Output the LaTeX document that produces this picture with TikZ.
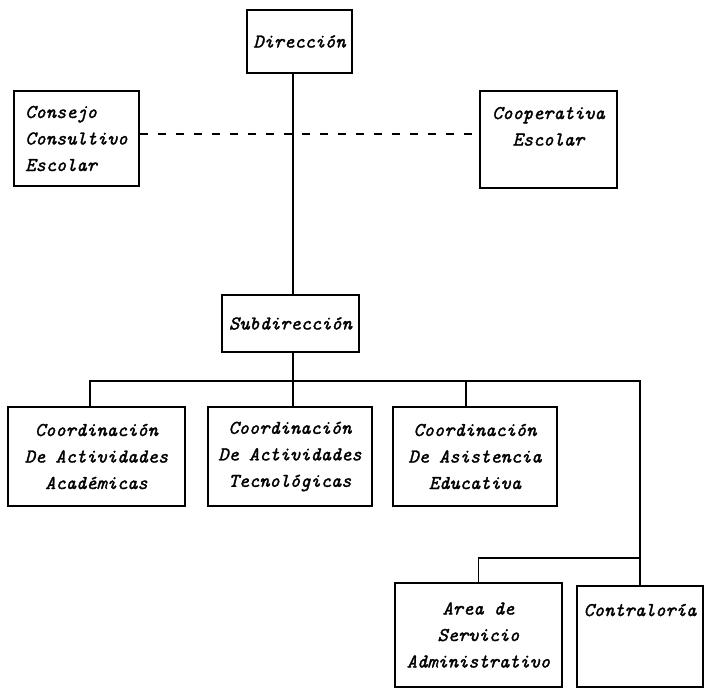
\documentclass[tikz,border=0pt]{standalone}
\usepackage{fontspec}
\newfontface\typewfont{lmmono10-italic.otf}[RawFeature={embolden=1.6}]
\begin{document}
\begin{tikzpicture}[x=1pt,y=-1pt,
  box/.style={draw, line width=1.4pt, inner sep=0pt, align=center,
    font=\typewfont\fontsize{19.5}{26.5}\selectfont},
  link/.style={line width=1.4pt},
  dashlink/.style={line width=1.4pt, dash pattern=on 8pt off 10pt}]
\fill[white] (0,0) rectangle (705,690);
\useasboundingbox (0,0) rectangle (705,690);
% boxes
\node[box, minimum width=105pt, minimum height=63pt] (dir) at (299.5,41.5) {Dirección};
\node[box, align=left, minimum width=125pt, minimum height=95pt] (cons) at (76.5,138.5) {Consejo\\Consultivo\\Escolar};
\node[box, minimum width=137pt, minimum height=97pt] (coop) at (548.5,139.5) {Cooperativa\\Escolar\\\mbox{}};
\node[box, minimum width=137pt, minimum height=57pt] (sub) at (290.5,323.5) {Subdirección};
\node[box, minimum width=177pt, minimum height=99pt] (c1) at (96.5,456.5) {Coordinación\\De Actividades\\Académicas};
\node[box, minimum width=164pt, minimum height=99pt] (c2) at (290,456.5) {Coordinación\\De Actividades\\Tecnológicas};
\node[box, minimum width=164pt, minimum height=99pt] (c3) at (475,456.5) {Coordinación\\De Asistencia\\Educativa};
\node[box, minimum width=167pt, minimum height=104pt] (area) at (478.5,635) {Area de\\Servicio\\Administrativo};
\node[box, align=left, minimum width=126pt, minimum height=101pt] (contr) at (640,636.5) {Contraloría\\\mbox{}\\\mbox{}};
% helper coordinates
\coordinate (spine) at (293,0);
\coordinate (dashy) at (0,134);
\coordinate (busL) at (90,381);
\coordinate (busR) at (640,381);
\coordinate (b3) at (466,381);
\coordinate (j) at (640,558);
% connectors
\draw[link] (dir.south -| spine) -- (sub.north -| spine);
\draw[dashlink] (cons.east |- dashy) -- (coop.west |- dashy);
\draw[link] (sub.south -| spine) -- (c2.north -| spine);
\draw[link] (c1.north -| busL) -- (busL) -- (busR) -- (contr.north);
\draw[link] (b3) -- (c3.north -| b3);
\draw[link] (j) -- (area.north |- j) -- (area.north);
\end{tikzpicture}
\end{document}
